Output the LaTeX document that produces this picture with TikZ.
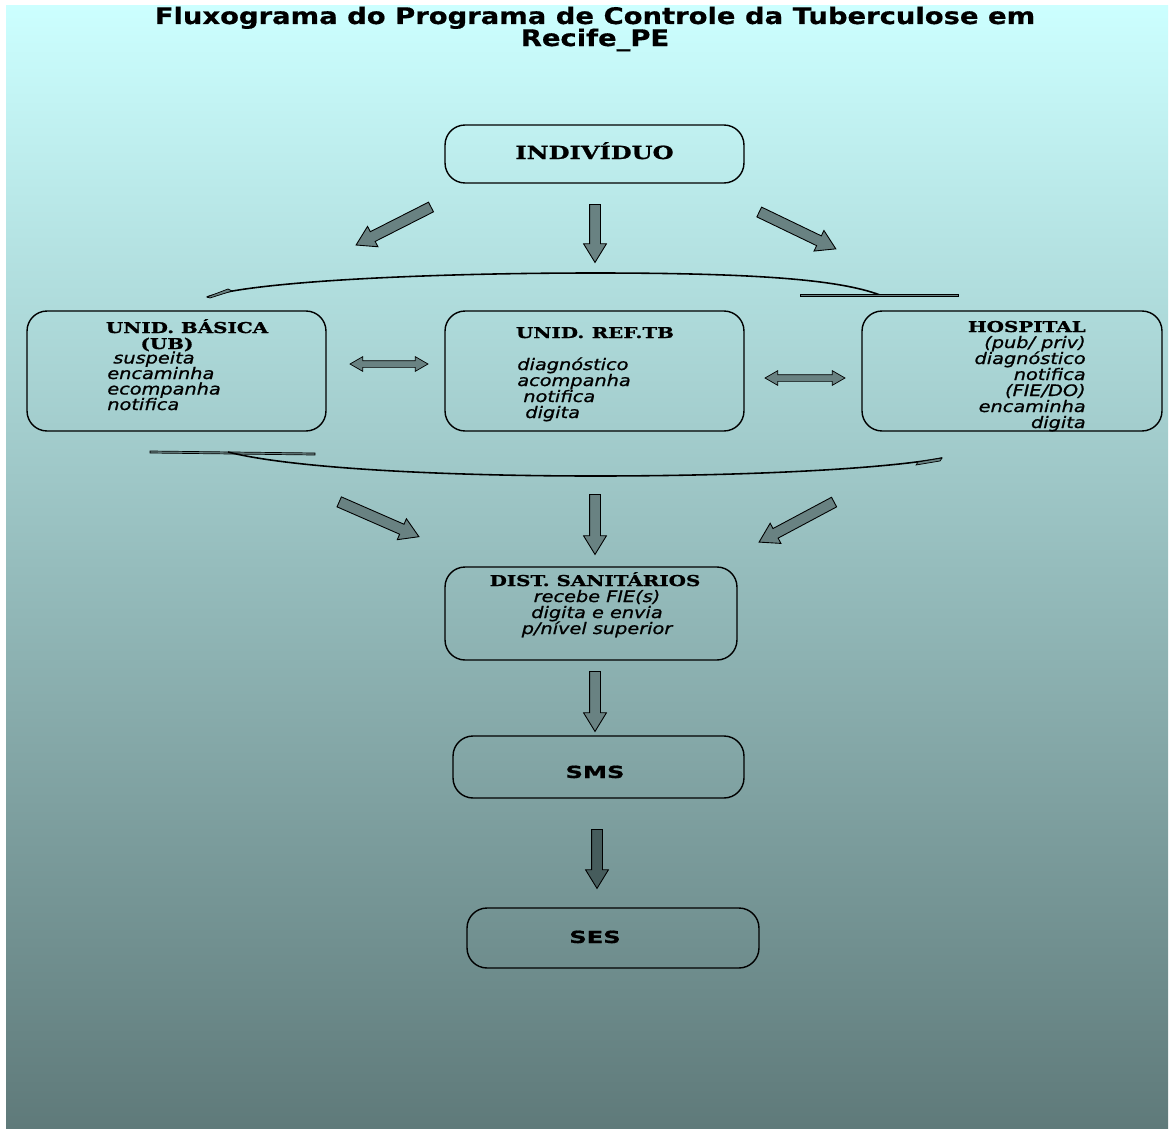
\documentclass[tikz,border=0pt]{standalone}
\usepackage{fontspec}
\setmainfont{DejaVu Sans}
\newfontfamily\ttlfont[FakeStretch=1.2, FakeBold=0.6]{DejaVu Sans}
\newfontfamily\hdrfont[FakeStretch=1.33, FakeBold=1.2]{DejaVu Serif}
\newfontfamily\itfont[FakeStretch=1.22, FakeBold=0.9]{DejaVu Sans}
\newfontfamily\boxfont[FakeStretch=1.45, FakeBold=0.8]{DejaVu Sans}
\usetikzlibrary{shapes.arrows}

\definecolor{bgtop}{RGB}{204,255,255}
\definecolor{bgmid}{RGB}{160,200,200}
\definecolor{bgbot}{RGB}{95,122,122}
\definecolor{arrowgray}{RGB}{105,130,130}
\definecolor{arrowdark}{RGB}{70,92,92}

\begin{document}
\begin{tikzpicture}[x=0.02cm, y=-0.02cm,
    box/.style={draw=black, line width=0.8pt, rounded corners=0.4cm, inner sep=0pt},
    ttl/.style={font=\ttlfont\bfseries\fontsize{13}{13}\selectfont, inner sep=0pt},
    hdr/.style={font=\hdrfont\bfseries\fontsize{8.5}{9}\selectfont, inner sep=0pt},
    itx/.style={font=\itfont\itshape\fontsize{9}{9}\selectfont, inner sep=0pt},
    lbl/.style={font=\boxfont\bfseries\fontsize{9.5}{9}\selectfont, inner sep=0pt},
    bigarrow/.style={single arrow, draw=black, line width=0.5pt, fill=arrowgray,
      inner xsep=0pt, inner ysep=0.1cm, single arrow head extend=0.12cm,
      single arrow tip angle=63},
    dblarrow/.style={double arrow, draw=black, line width=0.4pt, fill=arrowgray,
      inner xsep=0pt, inner ysep=0.06cm, double arrow head extend=0.08cm,
      double arrow tip angle=60},
    curve/.style={draw=black, line width=0.9pt},
    tip/.style={draw=black, fill=arrowgray, line width=0.4pt}
  ]
    % Background
    \useasboundingbox (0,0) rectangle (1173,1129);
    \fill[white] (0,0) rectangle (1173,1129);
    \shade[top color=bgtop, middle color=bgmid, bottom color=bgbot] (6,5) rectangle (1168,1128);

    % Title
    \node[ttl, anchor=base] (title1) at (595,24) {Fluxograma do Programa de Controle da Tuberculose em};
    \node[ttl, anchor=base] (title2) at (595,46) {Recife\_PE};

    % Boxes
    \node[box, minimum width=5.98cm, minimum height=1.16cm] (indiv) at (594.5,154) {};
    \node[box, minimum width=5.98cm, minimum height=2.4cm] (ub) at (176.5,371) {};
    \node[box, minimum width=5.98cm, minimum height=2.4cm] (ref) at (594.5,371) {};
    \node[box, minimum width=6cm, minimum height=2.4cm] (hosp) at (1012,371) {};
    \node[box, minimum width=5.84cm, minimum height=1.86cm] (dist) at (591,613.5) {};
    \node[box, minimum width=5.82cm, minimum height=1.24cm] (sms) at (598.5,767) {};
    \node[box, minimum width=5.84cm, minimum height=1.2cm] (ses) at (613,938) {};

    % Box texts
    \node[hdr, anchor=base] (indivtxt) at (594.5,159) {\fontsize{10.3}{9}\selectfont INDIVÍDUO};
    \node[lbl, anchor=base] (smstxt) at (595,778) {SMS};
    \node[lbl, anchor=base] (sestxt) at (595,943) {SES};

    \node[hdr, anchor=base] (ubh1) at (187,333) {UNID. BÁSICA};
    \node[hdr, anchor=base] (ubh2) at (167,349) {(UB)};
    \foreach \t/\px [count=\k] in {suspeita/113, encaminha/107, ecompanha/107, notifica/107}
      \node[itx, anchor=base west] (ubl\k) at (\px,348+15.5*\k) {\t};

    \node[hdr, anchor=base] (refh) at (595,338) {UNID.\enspace REF.TB};
    \foreach \t/\px [count=\k] in {diagnóstico/517, acompanha/517, notifica/523, digita/525}
      \node[itx, anchor=base west] (refl\k) at (\px,354+16*\k) {\t};

    \node[hdr, anchor=base east] (hosph) at (1086,332) {HOSPITAL};
    \foreach \t [count=\k] in {(pub/ priv), diagnóstico, notifica, (FIE/DO), encaminha, digita}
      \node[itx, anchor=base east] (hospl\k) at (1086,332+16*\k) {\t};

    \node[hdr, anchor=base] (disth) at (595,586) {DIST. SANITÁRIOS};
    \foreach \t [count=\k] in {recebe FIE(s), digita e envia, p/nível superior}
      \node[itx, anchor=base] (distl\k) at (597,586+16*\k) {\t};

    % Block arrows
    \foreach \px/\py/\ang/\len [count=\i] in {397.5/224/206.9/84, 595/229/-90/58, 793.5/228.5/-25.7/85,
        375/517.5/-23.6/87, 595/520/-90/60, 800.5/520/208.1/85, 595/697/-90/60}
      \node[bigarrow, rotate=\ang, minimum height=\len*0.02cm] (arr\i) at (\px,\py) {};
    \node[bigarrow, fill=arrowdark, rotate=-90, minimum height=1.18cm] (arr8) at (597,854.5) {};

    \node[dblarrow, minimum height=1.56cm] (lr1) at (389,364) {};
    \node[dblarrow, minimum height=1.6cm] (lr2) at (805,378) {};

    % Curved arrows
    \coordinate (ta) at (207,297);
    \coordinate (tb) at (595,273);
    \coordinate (tc) at (880,295);
    \coordinate (td) at (800,294);
    \coordinate (te) at (958,294);
    \draw[curve] (ta) .. controls (250,282) and (420,273) .. (tb)
      .. controls (760,273) and (840,280) .. (tc);
    \draw[tip] (td) -- (te) -- (958,296) -- (800,296) -- cycle;
    \draw[tip] (ta) -- (228,289) -- (232,291) -- (210,298) -- cycle;

    \coordinate (ba) at (150,451);
    \coordinate (bb) at (315,453);
    \coordinate (bc) at (228,452);
    \coordinate (bd) at (595,476);
    \coordinate (be) at (942,458);
    \draw[tip] (ba) -- (bb) -- (315,455) -- (150,453) -- cycle;
    \draw[curve] (bc) .. controls (290,468) and (440,476) .. (bd)
      .. controls (760,476) and (890,468) .. (be);
    \draw[tip] (be) -- (918,462) -- (916,465) -- (940,461) -- cycle;
\end{tikzpicture}
\end{document}
